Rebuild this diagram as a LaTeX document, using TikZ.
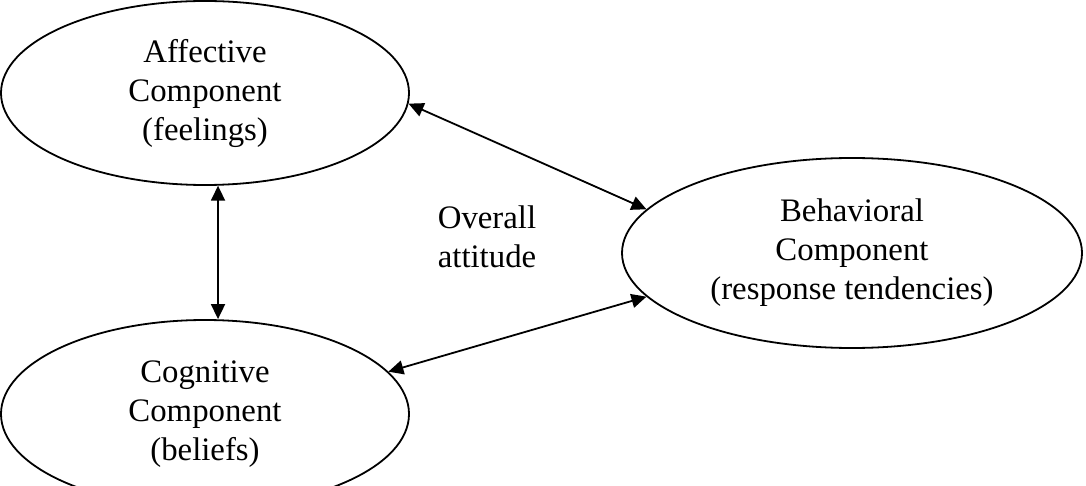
\documentclass[tikz,border=0pt]{standalone}
\usepackage{fontspec}
\setmainfont{Liberation Serif}
\usetikzlibrary{shapes.geometric,arrows.meta}
\begin{document}
\begin{tikzpicture}[x=0.5pt, y=-0.5pt, font=\fontsize{16.4}{19.5}\selectfont,
  comp/.style={draw, ellipse, line width=0.9pt, align=center, inner sep=0pt},
  link/.style={{Triangle[length=7.5pt,width=7pt]}-{Triangle[length=7.5pt,width=7pt]}, line width=0.9pt}]
  \useasboundingbox (0,0) rectangle (1086,486);
  \node[comp, minimum width=204pt, minimum height=92pt] (aff) at (205,93) {Affective\\Component\\(feelings)};
  \node[comp, minimum width=204pt, minimum height=94pt] (cog) at (205,414) {Cognitive\\Component\\(beliefs)};
  \node[comp, minimum width=230pt, minimum height=95pt] (beh) at (852,253) {Behavioral\\Component\\(response tendencies)};
  \node[align=center] (att) at (487,237) {Overall\\attitude};
  \draw[link] (aff.-82) -- (aff.-82 |- cog.north);
  \draw[link] (aff.-3) -- (beh.168);
  \draw[link] (cog.13) -- (beh.192);
\end{tikzpicture}
\end{document}
